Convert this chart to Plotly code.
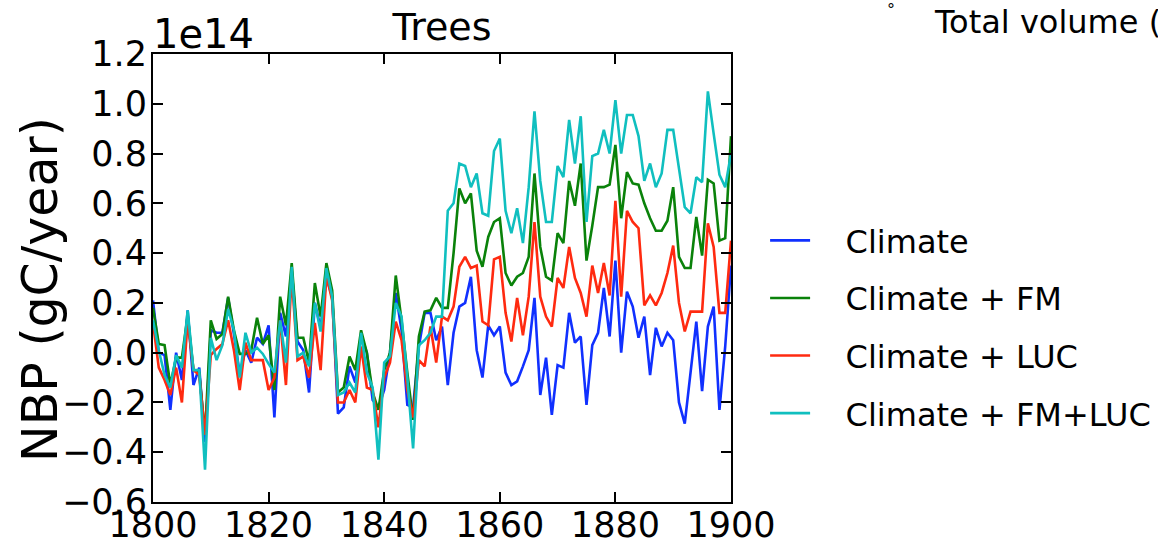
import plotly.graph_objects as go

years = list(range(1800, 1901))

climate = [0.21, 0.00, -0.01, -0.23, 0.00, -0.11, 0.17, -0.13, -0.06, -0.36,
           0.09, 0.08, 0.08, 0.22, 0.075, -0.085, 0.01, -0.04, 0.06, 0.035,
           0.11, -0.26, 0.16, 0.065, 0.33, 0.045, 0.01, -0.16, 0.20, 0.10,
           0.30, 0.225, -0.245, -0.22, -0.055, -0.12, 0.07, 0.00, -0.19, -0.22,
           -0.15, 0.00, 0.24, 0.09, -0.21, -0.22, 0.025, 0.16, 0.16, 0.05,
           0.105, -0.13, 0.08, 0.185, 0.20, 0.305, 0.01, -0.10, 0.11, 0.07,
           0.105, -0.08, -0.13, -0.115, -0.055, 0.01, 0.22, -0.17, -0.02, -0.25,
           -0.05, -0.06, 0.16, 0.04, 0.065, -0.21, 0.03, 0.08, 0.26, 0.065,
           0.37, 0.00, 0.245, 0.185, 0.06, 0.145, -0.09, 0.10, 0.025, 0.08,
           0.05, -0.20, -0.285, -0.08, 0.125, -0.155, 0.105, 0.185, -0.23, 0.025,
           0.35]

climate_fm = [0.18, 0.035, 0.03, -0.13, -0.02, -0.02, 0.15, -0.07, -0.08, -0.33,
              0.13, 0.055, 0.075, 0.225, 0.09, -0.005, -0.005, 0.01, 0.14, 0.035,
              0.07, -0.15, 0.225, 0.11, 0.36, 0.06, 0.06, -0.04, 0.28, 0.145,
              0.36, 0.25, -0.16, -0.14, -0.015, -0.07, 0.09, 0.00, -0.16, -0.23,
              -0.07, 0.00, 0.31, 0.13, -0.08, -0.27, 0.065, 0.165, 0.17, 0.22,
              0.18, 0.18, 0.40, 0.66, 0.60, 0.64, 0.41, 0.345, 0.465, 0.525,
              0.54, 0.32, 0.27, 0.305, 0.32, 0.385, 0.72, 0.425, 0.305, 0.29,
              0.48, 0.44, 0.69, 0.59, 0.76, 0.37, 0.51, 0.665, 0.665, 0.675,
              0.835, 0.54, 0.725, 0.68, 0.675, 0.60, 0.54, 0.49, 0.49, 0.53,
              0.665, 0.385, 0.34, 0.34, 0.545, 0.39, 0.695, 0.68, 0.45, 0.46,
              0.87]

climate_luc = [0.12, -0.06, -0.11, -0.17, -0.06, -0.20, 0.13, -0.07, -0.09, -0.33,
               -0.01, 0.015, 0.035, 0.13, 0.01, -0.15, 0.04, -0.03, -0.03, -0.03,
               -0.15, -0.10, 0.13, -0.13, 0.31, -0.03, -0.015, -0.10, 0.12, -0.07,
               0.31, 0.21, -0.20, -0.20, -0.15, -0.20, 0.025, -0.14, -0.15, -0.30,
               -0.10, -0.04, 0.125, 0.05, -0.15, -0.26, -0.03, -0.055, 0.105, -0.04,
               0.145, 0.13, 0.185, 0.345, 0.385, 0.34, 0.35, 0.125, 0.11, 0.375,
               0.385, 0.16, 0.045, 0.22, 0.07, 0.225, 0.525, 0.225, 0.145, 0.105,
               0.30, 0.26, 0.425, 0.30, 0.24, 0.145, 0.35, 0.24, 0.36, 0.23,
               0.61, 0.225, 0.57, 0.525, 0.50, 0.19, 0.23, 0.19, 0.24, 0.32,
               0.43, 0.20, 0.085, 0.165, 0.165, 0.165, 0.52, 0.425, 0.16, 0.16,
               0.45]

climate_fm_luc = [0.13, 0.01, -0.09, -0.14, -0.01, -0.06, 0.17, -0.07, -0.07, -0.47,
                  0.06, -0.03, 0.03, 0.175, 0.09, -0.10, 0.08, 0.00, 0.02, -0.005,
                  -0.045, -0.08, 0.13, -0.04, 0.345, -0.015, 0.00, -0.055, 0.20, 0.085,
                  0.34, 0.225, -0.17, -0.16, -0.12, -0.16, 0.08, -0.08, -0.14, -0.43,
                  -0.04, -0.015, 0.20, 0.145, -0.10, -0.385, 0.03, 0.05, 0.08, 0.145,
                  0.145, 0.57, 0.60, 0.76, 0.75, 0.665, 0.72, 0.56, 0.55, 0.81,
                  0.86, 0.57, 0.48, 0.58, 0.44, 0.665, 0.97, 0.69, 0.525, 0.525,
                  0.75, 0.705, 0.935, 0.76, 0.95, 0.525, 0.79, 0.80, 0.895, 0.80,
                  1.015, 0.80, 0.955, 0.955, 0.87, 0.69, 0.76, 0.665, 0.72, 0.895,
                  0.895, 0.735, 0.585, 0.56, 0.705, 0.685, 1.05, 0.88, 0.715, 0.665,
                  0.80]

series_names = ["Climate", "Climate + FM", "Climate + LUC", "Climate + FM+LUC"]
series_values = [climate, climate_fm, climate_luc, climate_fm_luc]
series_colors = ["#1030ff", "#0a820a", "#ff2a10", "#10bfbf"]

x_ticks = [1800, 1820, 1840, 1860, 1880, 1900]
y_ticks = [-0.6, -0.4, -0.2, 0.0, 0.2, 0.4, 0.6, 0.8, 1.0, 1.2]

FONT = "DejaVu Sans"
NB = "\u00a0\u00a0\u00a0"

fig = go.Figure()
for name, vals, col in zip(series_names, series_values, series_colors):
    fig.add_trace(go.Scatter(x=years, y=vals, mode="lines", name=NB + name,
                             legendgroup=name,
                             line=dict(color=col, width=2.6)))

axis_common = dict(showline=True, linecolor="black", linewidth=2, mirror="ticks",
                   ticks="inside", ticklen=10, tickwidth=1.5, tickcolor="black",
                   showgrid=False, zeroline=False, automargin=False,
                   tickfont=dict(family=FONT, size=35, color="black"))

fig.update_xaxes(range=[1800, 1900], tickvals=x_ticks, ticklabelstandoff=-9, **axis_common)
fig.update_yaxes(range=[-0.6, 1.2], tickvals=y_ticks, tickformat=".1f",
                 ticklabelstandoff=-3, **axis_common)

fig.update_layout(
    width=1158, height=544,
    margin=dict(l=153, r=427, t=54, b=42, autoexpand=False),
    paper_bgcolor="white", plot_bgcolor="white",
    title=dict(text="Trees", x=0.5, xref="paper", xanchor="center",
               y=1 - 27 / 544, yanchor="middle",
               font=dict(family=FONT, size=38, color="black")),
    legend=dict(x=1.059, y=0.645, xanchor="left", yanchor="top",
                font=dict(family=FONT, size=32, color="black"),
                tracegroupgap=13, itemwidth=40,
                bgcolor="rgba(0,0,0,0)", borderwidth=0),
    showlegend=True,
)

fig.add_annotation(text="NBP (gC/year)", textangle=-90, xref="paper", yref="paper",
                   x=(40 - 153) / 578, y=(502 - 290) / 448, xanchor="center", yanchor="middle",
                   showarrow=False, font=dict(family=FONT, size=49, color="black"))
fig.add_annotation(text="1e14", xref="paper", yref="paper",
                   x=-0.004, y=(502 - 34) / 448, xanchor="left", yanchor="middle",
                   showarrow=False, font=dict(family=FONT, size=40, color="black"))
fig.add_annotation(text="Total volume (", xref="paper", yref="paper",
                   x=(932 - 153) / 578, y=(502 - 22) / 448, xanchor="left", yanchor="middle",
                   showarrow=False, font=dict(family=FONT, size=32, color="black"))
fig.add_annotation(text="°", xref="paper", yref="paper",
                   x=(891 - 153) / 578, y=(502 + 2) / 448, xanchor="center", yanchor="top",
                   showarrow=False, font=dict(family=FONT, size=16, color="black"))

fig.write_html("out.html", config={"displayModeBar": False},
               post_script="document.body.style.margin='0';document.body.style.padding='0';")
